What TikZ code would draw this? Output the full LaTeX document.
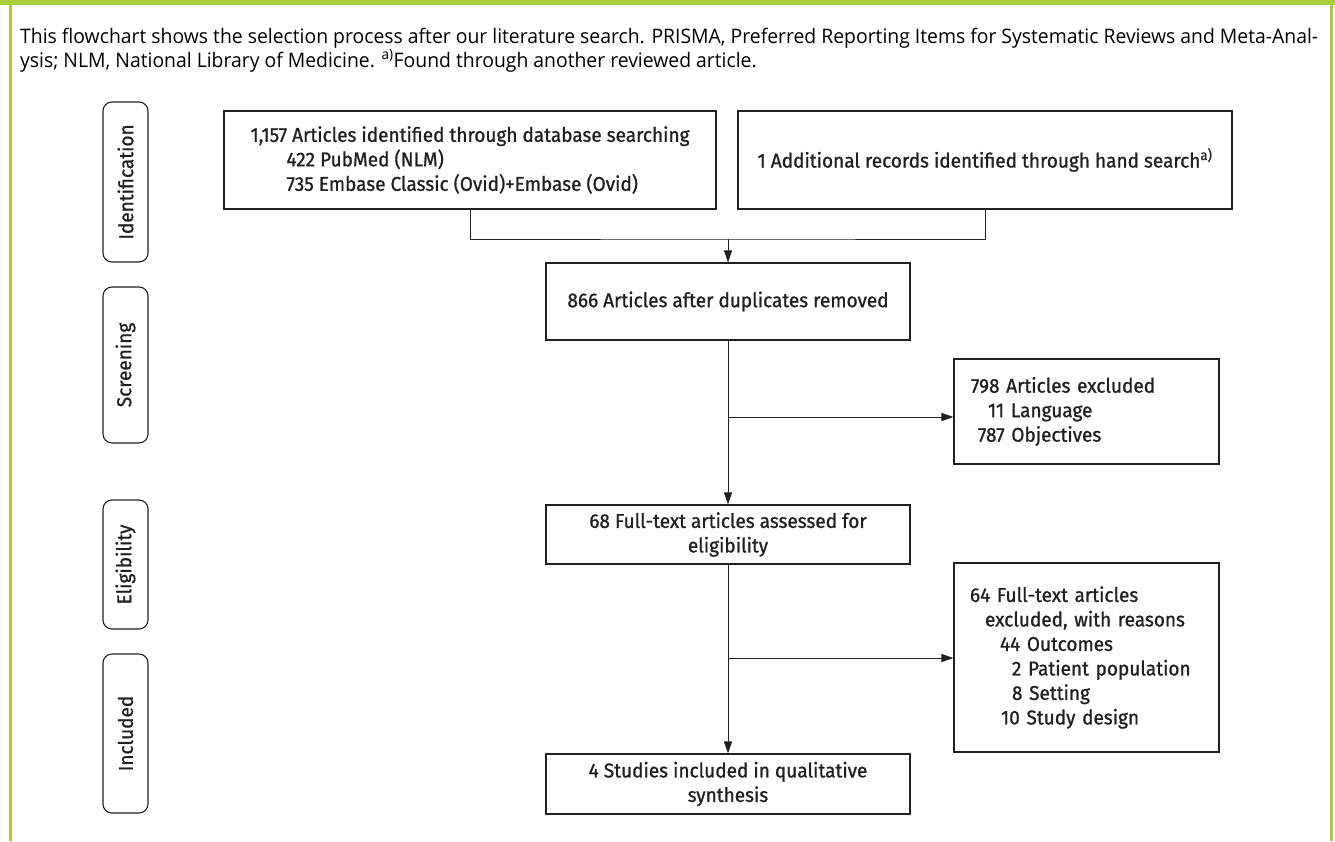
\documentclass[tikz,border=0pt]{standalone}
\usepackage{fontspec}
\setmainfont{Fira Sans}
\newfontfamily\capfont{Open Sans}
\newfontfamily\boxfont[FakeStretch=0.95,FakeBold=1.0]{Fira Sans}
\usetikzlibrary{arrows.meta}
\definecolor{framegreen}{HTML}{A6CE39}
\definecolor{ink}{HTML}{231F20}
\definecolor{capink}{HTML}{2E2E2E}
\newsavebox\capboxA
\newsavebox\capboxB
\tikzset{
  box/.style={draw=ink, line width=1.1pt, inner sep=0pt, font=\boxfont\fontsize{20}{24.5}\selectfont, text=ink, align=center},
  phase/.style={draw=ink, line width=1.1pt, rounded corners=9pt, rotate=90, minimum height=45pt, inner sep=0pt, font=\boxfont\fontsize{20}{22}\selectfont, text=ink},
  conn/.style={draw=ink, line width=1pt},
  arr/.style={conn, -{Triangle[length=12pt,width=8pt]}}
}
\begin{document}
\sbox\capboxA{\capfont\fontsize{20}{24}\selectfont This flowchart shows the selection process after our literature search. PRISMA, Preferred Reporting Items for Systematic Reviews and Meta-Anal-}
\sbox\capboxB{\capfont\fontsize{20}{24}\selectfont ysis; NLM, National Library of Medicine. \textsuperscript{a)}Found through another reviewed article.}
\pgfmathsetmacro\capsx{1298/\the\wd\capboxA}
\begin{tikzpicture}[x=1pt,y=-1pt]
\useasboundingbox (0,0) rectangle (1335,841);
\fill[framegreen] (0,0) rectangle (1335,5);
\fill[framegreen] (9,0) rectangle (12,841);
\fill[framegreen] (1330,0) rectangle (1333,841);
% caption
\node[anchor=base west, inner sep=0pt, text=capink] (cap1) at (20,43) {\scalebox{\capsx}[1]{\usebox\capboxA}};
\node[anchor=base west, inner sep=0pt, text=capink] (cap2) at (20,67) {\scalebox{\capsx}[1]{\usebox\capboxB}};
% phases
\node[phase, minimum width=160pt] (pid) at (125.5,182) {Identification};
\node[phase, minimum width=156pt] (psc) at (125.5,365) {Screening};
\node[phase, minimum width=129pt] (pel) at (125.5,564.5) {Eligibility};
\node[phase, minimum width=159pt] (pin) at (125.5,733.5) {Included};
% boxes
\node[box, minimum width=492pt, minimum height=98pt, align=left] (A) at (470,160)
  {1,157 Articles identified through database searching\\
   \hspace*{36pt}422 PubMed (NLM)\\
   \hspace*{36pt}735 Embase Classic (Ovid)+Embase (Ovid)};
\node[box, minimum width=494pt, minimum height=98pt] (B) at (985,160)
  {1 Additional records identified through hand search\textsuperscript{a)}};
\node[box, minimum width=364pt, minimum height=77pt] (C) at (728,301.5)
  {866 Articles after duplicates removed};
\node[box, minimum width=265pt, minimum height=105pt, text width=231pt, inner xsep=17pt, align=left] (E1) at (1086.5,411.5)
  {798 Articles excluded\\
   \hspace*{17pt}11 Language\\
   \hspace*{7pt}787 Objectives};
\node[box, minimum width=364pt, minimum height=59pt] (D) at (728,534.5)
  {68 Full-text articles assessed for\\eligibility};
\node[box, minimum width=265pt, minimum height=189pt, text width=233pt, inner xsep=16pt, align=left] (E2) at (1086.5,657.5)
  {64 Full-text articles\\
   \hspace*{15pt}excluded, with reasons\\
   \hspace*{30pt}44 Outcomes\\
   \hspace*{42pt}2 Patient population\\
   \hspace*{42pt}8 Setting\\
   \hspace*{31pt}10 Study design};
\node[box, minimum width=364pt, minimum height=60pt] (F) at (728,784)
  {4 Studies included in qualitative\\synthesis};
% connectors
\coordinate (m) at (728,239);
\draw[conn] (A.south) |- (m) -| (B.south);
\draw[arr] (m) -- (C.north);
\coordinate (b1) at (728,417);
\draw[arr] (C.south) -- (D.north);
\draw[arr] (b1) -- (E1.west |- b1);
\coordinate (b2) at (728,658);
\draw[arr] (D.south) -- (F.north);
\draw[arr] (b2) -- (E2.west |- b2);
\end{tikzpicture}
\end{document}
